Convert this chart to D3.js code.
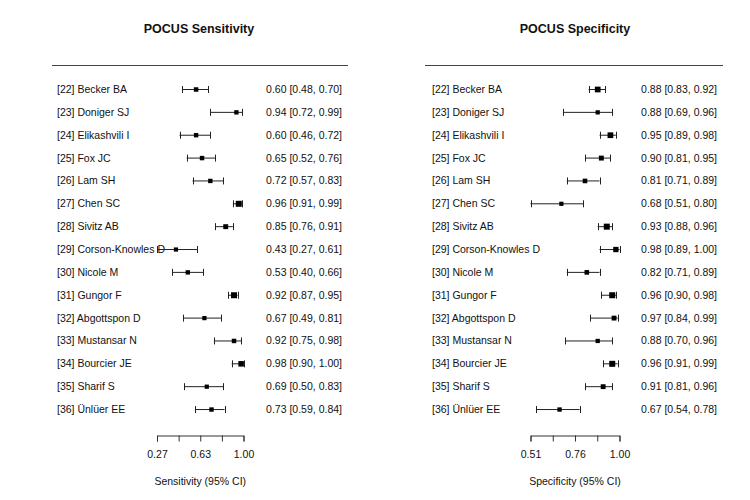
<!DOCTYPE html>
<html lang="en">
  <head>
    <meta charset='utf-8'>
    <script src='https://d3js.org/d3.v7.min.js'></script>
    <title>POCUS forest plots</title>
    <style>
      body { margin: 0px; background: #fff; }
      svg text { font-family: 'Liberation Sans', Arial, sans-serif; fill: #111; }
      .title { font-size: 12.5px; font-weight: bold; }
      .row-label, .row-est { font-size: 10.5px; }
      .axis-label { font-size: 10.5px; }
      .tick text { font-size: 10.5px; font-family: 'Liberation Sans', Arial, sans-serif; }
      .tick line, .domain { stroke: #333; }
    </style>
  </head>
  <body>
    <div id='viz'></div>
    <script>
      // study labels
      const studies = ['[22] Becker BA', '[23] Doniger SJ', '[24] Elikashvili I', '[25] Fox JC',
        '[26] Lam SH', '[27] Chen SC', '[28] Sivitz AB', '[29] Corson-Knowles D', '[30] Nicole M',
        '[31] Gungor F', '[32] Abgottspon D', '[33] Mustansar N', '[34] Bourcier JE',
        '[35] Sharif S', '[36] Ünlüer EE'];

      // sensitivity + 95% CI
      const sens   = [0.60, 0.94, 0.60, 0.65, 0.72, 0.96, 0.85, 0.43, 0.53, 0.92, 0.67, 0.92, 0.98, 0.69, 0.73];
      const sensLo = [0.48, 0.72, 0.46, 0.52, 0.57, 0.91, 0.76, 0.27, 0.40, 0.87, 0.49, 0.75, 0.90, 0.50, 0.59];
      const sensHi = [0.70, 0.99, 0.72, 0.76, 0.83, 0.99, 0.91, 0.61, 0.66, 0.95, 0.81, 0.98, 1.00, 0.83, 0.84];

      // specificity + 95% CI
      const spec   = [0.88, 0.88, 0.95, 0.90, 0.81, 0.68, 0.93, 0.98, 0.82, 0.96, 0.97, 0.88, 0.96, 0.91, 0.67];
      const specLo = [0.83, 0.69, 0.89, 0.81, 0.71, 0.51, 0.88, 0.89, 0.71, 0.90, 0.84, 0.70, 0.91, 0.81, 0.54];
      const specHi = [0.92, 0.96, 0.98, 0.95, 0.89, 0.80, 0.96, 1.00, 0.89, 0.98, 0.99, 0.96, 0.99, 0.96, 0.78];

      // axis ticks
      const sensTicks = [0.27, 0.4525, 0.635, 0.8175, 1.00];
      const sensTickLabels = ['0.27', '', '0.63', '', '1.00'];
      const specTicks = [0.51, 0.6325, 0.755, 0.8775, 1.00];
      const specTickLabels = ['0.51', '', '0.76', '', '1.00'];

      const width = 750, height = 500;
      const rowTop = 89, rowStep = 22.86;

      const svg = d3.select('#viz').append('svg')
        .attr('width', width)
        .attr('height', height);

      const fmt = d3.format('.2f');

      function forest(cfg) {
        const g = svg.append('g');
        const data = studies.map((s, i) => ({
          label: s, est: cfg.est[i], lo: cfg.lo[i], hi: cfg.hi[i], i: i
        }));

        const x = d3.scaleLinear()
          .domain([cfg.ticks[0], cfg.ticks[cfg.ticks.length - 1]])
          .range([cfg.axisLeft, cfg.axisRight]);
        const y = i => rowTop + i * rowStep;

        // square size from precision
        const prec = data.map(d => 1 / (d.hi - d.lo));
        const size = d3.scaleLinear().domain(d3.extent(prec)).range([4.2, 6]);

        g.append('text')
          .attr('class', 'title')
          .attr('x', cfg.titleX)
          .attr('y', 33)
          .attr('text-anchor', 'middle')
          .text(cfg.title);

        g.append('line')
          .attr('x1', cfg.lineLeft).attr('x2', cfg.lineRight)
          .attr('y1', 65.5).attr('y2', 65.5)
          .attr('stroke', '#444');

        g.selectAll('.row-label').data(data).enter().append('text')
          .attr('class', 'row-label')
          .attr('x', cfg.labelX)
          .attr('y', d => y(d.i) + 4)
          .text(d => d.label);

        g.selectAll('.row-est').data(data).enter().append('text')
          .attr('class', 'row-est')
          .attr('x', cfg.estX)
          .attr('y', d => y(d.i) + 4)
          .attr('text-anchor', 'end')
          .text(d => `${fmt(d.est)} [${fmt(d.lo)}, ${fmt(d.hi)}]`);

        const ci = g.selectAll('.ci').data(data).enter().append('g')
          .attr('class', 'ci')
          .attr('stroke', '#222')
          .attr('stroke-width', 1);
        ci.append('line')
          .attr('x1', d => x(d.lo)).attr('x2', d => x(d.hi))
          .attr('y1', d => y(d.i) + 0.5).attr('y2', d => y(d.i) + 0.5);
        ci.append('line')
          .attr('x1', d => Math.round(x(d.lo)) + 0.5).attr('x2', d => Math.round(x(d.lo)) + 0.5)
          .attr('y1', d => y(d.i) - 3).attr('y2', d => y(d.i) + 4);
        ci.append('line')
          .attr('x1', d => Math.round(x(d.hi)) + 0.5).attr('x2', d => Math.round(x(d.hi)) + 0.5)
          .attr('y1', d => y(d.i) - 3).attr('y2', d => y(d.i) + 4);

        g.selectAll('.pt').data(data).enter().append('rect')
          .attr('class', 'pt')
          .attr('x', (d, k) => x(d.est) - size(prec[k]) / 2)
          .attr('y', (d, k) => y(d.i) + 0.5 - size(prec[k]) / 2)
          .attr('width', (d, k) => size(prec[k]))
          .attr('height', (d, k) => size(prec[k]))
          .attr('fill', '#000');

        const axis = d3.axisBottom(x)
          .tickValues(cfg.ticks)
          .tickFormat((d, k) => cfg.tickLabels[k])
          .tickSizeOuter(0)
          .tickSize(6)
          .tickPadding(9);

        const axisG = g.append('g')
          .attr('transform', 'translate(0,435.5)')
          .call(axis);
        axisG.selectAll('.tick text').attr('fill', '#111');

        g.append('text')
          .attr('class', 'axis-label')
          .attr('x', (cfg.axisLeft + cfg.axisRight) / 2)
          .attr('y', 485)
          .attr('text-anchor', 'middle')
          .text(cfg.axisTitle);
      }

      forest({
        title: 'POCUS Sensitivity', titleX: 199,
        est: sens, lo: sensLo, hi: sensHi,
        ticks: sensTicks, tickLabels: sensTickLabels,
        axisLeft: 157, axisRight: 243.5,
        lineLeft: 52, lineRight: 348,
        labelX: 57, estX: 342,
        axisTitle: 'Sensitivity (95% CI)'
      });

      forest({
        title: 'POCUS Specificity', titleX: 575,
        est: spec, lo: specLo, hi: specHi,
        ticks: specTicks, tickLabels: specTickLabels,
        axisLeft: 530.5, axisRight: 619.5,
        lineLeft: 425, lineRight: 723,
        labelX: 432, estX: 717,
        axisTitle: 'Specificity (95% CI)'
      });
    </script>
  </body>
</html>
